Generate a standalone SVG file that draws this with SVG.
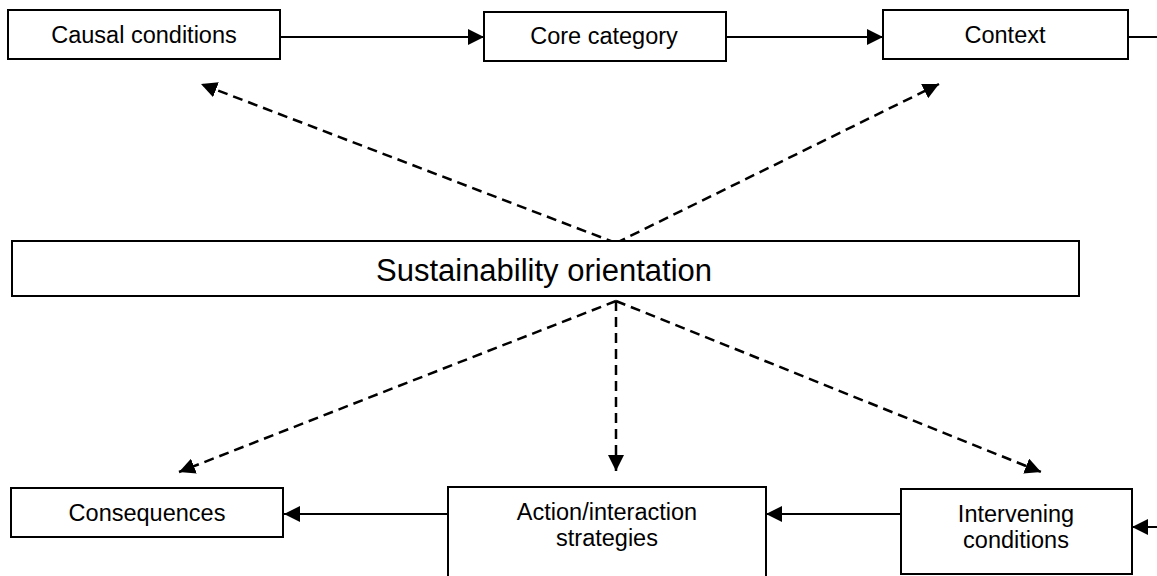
<svg xmlns="http://www.w3.org/2000/svg" width="1157" height="576" viewBox="0 0 1157 576">
  <style>
    .box { fill: #ffffff; stroke: #000000; stroke-width: 2; }
    .lbl { font-family: "Liberation Sans", Arial, sans-serif; font-size: 23.5px; fill: #000000; text-anchor: middle; }
    .big { font-size: 31px; }
    .solid { stroke: #000000; stroke-width: 2; fill: none; }
    .dash { stroke: #000000; stroke-width: 2.5; fill: none; stroke-dasharray: 10 6; }
  </style>
  <defs>
    <marker id="head" markerUnits="userSpaceOnUse" markerWidth="16" markerHeight="16" refX="16" refY="8" orient="auto">
      <path d="M0,0 L16,8 L0,16 Z" fill="#000000"/>
    </marker>
  </defs>

  <rect width="1157" height="576" fill="#ffffff"/>

  <g id="connectors">
    <!-- top row flow -->
    <line class="solid" x1="281" y1="37" x2="484" y2="37" marker-end="url(#head)"/>
    <line class="solid" x1="727" y1="37" x2="883" y2="37" marker-end="url(#head)"/>
    <line class="solid" x1="1129" y1="37" x2="1157" y2="37"/>
    <!-- bottom row flow -->
    <line class="solid" x1="1157" y1="527" x2="1132" y2="527" marker-end="url(#head)"/>
    <line class="solid" x1="901" y1="514" x2="766" y2="514" marker-end="url(#head)"/>
    <line class="solid" x1="448" y1="514" x2="284" y2="514" marker-end="url(#head)"/>
    <!-- links from the central orientation -->
    <line class="dash" x1="616" y1="243" x2="201" y2="84" marker-end="url(#head)"/>
    <line class="dash" x1="616" y1="243" x2="939" y2="84" marker-end="url(#head)"/>
    <line class="dash" x1="616" y1="301" x2="179" y2="472" marker-end="url(#head)"/>
    <line class="dash" x1="616" y1="301" x2="616" y2="471" marker-end="url(#head)"/>
    <line class="dash" x1="616" y1="301" x2="1041" y2="472" marker-end="url(#head)"/>
  </g>

  <g id="causal-conditions">
    <rect class="box" x="8" y="10" width="272" height="49"/>
    <text class="lbl" x="144" y="43">Causal conditions</text>
  </g>

  <g id="core-category">
    <rect class="box" x="484" y="12" width="242" height="49"/>
    <text class="lbl" x="604" y="44">Core category</text>
  </g>

  <g id="context">
    <rect class="box" x="883" y="10" width="245" height="49"/>
    <text class="lbl" x="1005" y="43">Context</text>
  </g>

  <g id="sustainability-orientation">
    <rect class="box" x="12" y="241" width="1067" height="55"/>
    <text class="lbl big" x="544" y="281">Sustainability orientation</text>
  </g>

  <g id="consequences">
    <rect class="box" x="11" y="488" width="272" height="49"/>
    <text class="lbl" x="147" y="521">Consequences</text>
  </g>

  <g id="action-interaction-strategies">
    <rect class="box" x="448" y="487" width="318" height="100"/>
    <text class="lbl" x="607" y="520">Action/interaction</text>
    <text class="lbl" x="607" y="546">strategies</text>
  </g>

  <g id="intervening-conditions">
    <rect class="box" x="901" y="489" width="231" height="85"/>
    <text class="lbl" x="1016" y="522">Intervening</text>
    <text class="lbl" x="1016" y="548">conditions</text>
  </g>
</svg>
